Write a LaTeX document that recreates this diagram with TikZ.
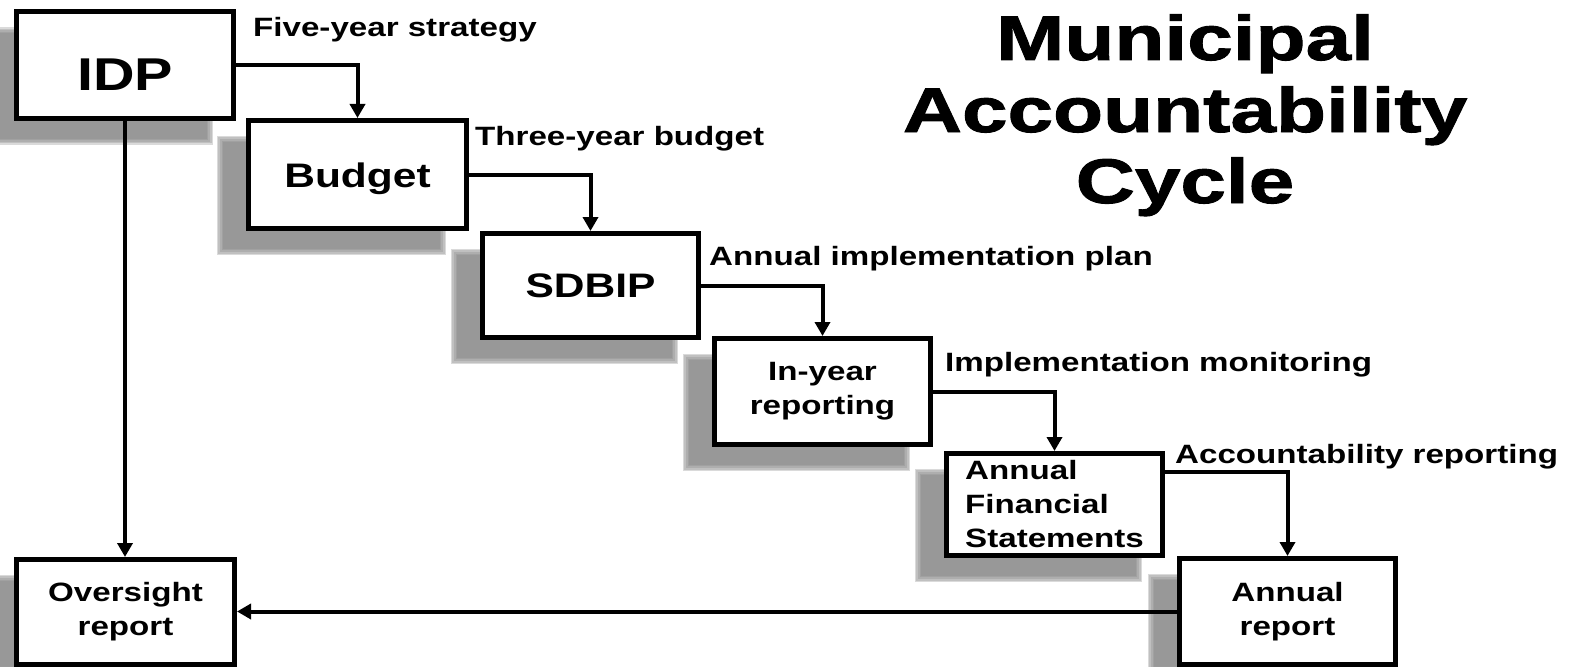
\documentclass[tikz,border=0pt]{standalone}
\usepackage{fontspec}
\setmainfont{Liberation Sans}
\newfontfamily\lblfont[FakeStretch=1.25]{Liberation Sans}
\newfontfamily\ttlfont[FakeStretch=1.3,BoldFeatures={FakeBold=1.5}]{Liberation Sans}
\usetikzlibrary{arrows.meta,calc,backgrounds}
\tikzset{
  box/.style={draw=black, line width=5pt, fill=white, inner sep=0pt,
    minimum width=216pt, minimum height=106pt, align=center,
    font=\lblfont\bfseries\fontsize{26.5}{34}\selectfont},
  lbl/.style={anchor=base west, inner sep=0pt,
    font=\lblfont\bfseries\fontsize{26.5}{34}\selectfont},
  ttl/.style={anchor=base, inner sep=0pt,
    font=\ttlfont\bfseries\fontsize{63}{72}\selectfont},
  flow/.style={line width=4pt, -{Triangle[width=15pt,length=14pt]}},
  shadowlayer/.style={fill=black!48, opacity=0.3}
}
\newcommand\dropshadow[1]{%
  \foreach \k in {-2,...,2}{%
    \fill[shadowlayer] ($(#1.north west)+(-26+\k*1.6,21+\k*1.6)$) rectangle
                       ($(#1.south east)+(-26-\k*1.6,21-\k*1.6)$);
  }}
\begin{document}
\begin{tikzpicture}[x=1pt,y=-1pt]
\useasboundingbox (0,0) rectangle (1570,666);
\clip (0,0) rectangle (1570,666);

% boxes
\node[box, minimum width=217pt, minimum height=106.4pt, font=\lblfont\bfseries\fontsize{46}{50}\selectfont,
      text height=52pt, text depth=0pt] (IDP) at (125,65) {IDP};
\node[box, minimum width=218pt, minimum height=108pt, font=\lblfont\bfseries\fontsize{34}{40}\selectfont,
      text height=25pt, text depth=0pt] (BUD) at (357.5,174.5) {Budget};
\node[box, minimum height=104pt, font=\lblfont\bfseries\fontsize{34}{40}\selectfont,
      text height=23pt, text depth=0pt] (SDB) at (590.5,285.5) {SDBIP};
\node[box] (IYR) at (822.5,391.5) {In-year\\reporting};
\node[box, minimum height=102pt, align=left] (AFS) at (1054.5,504.5) {Annual\\Financial\\Statements};
\node[box, minimum height=106pt] (AR) at (1287.5,611.5) {Annual\\report};
\node[box, minimum width=218pt, minimum height=105pt] (OR) at (125.5,612) {Oversight\\report};

% page background and shadows
\begin{pgfonlayer}{background}
  \fill[white] (0,0) rectangle (1570,666);
  \dropshadow{IDP}
  \dropshadow{BUD}
  \dropshadow{SDB}
  \dropshadow{IYR}
  \dropshadow{AFS}
  \dropshadow{AR}
  \dropshadow{OR}
\end{pgfonlayer}

% labels
\node[lbl] (L1) at (253,37) {Five-year strategy};
\node[lbl] (L2) at (475,145) {Three-year budget};
\node[lbl] (L3) at (709,265) {Annual implementation plan};
\node[lbl] (L4) at (945,371) {Implementation monitoring};
\node[lbl] (L5) at (1175,463) {Accountability reporting};

% title
\node[ttl] (T1) at (1185,60) {Municipal};
\node[ttl] (T2) at (1185,132) {Accountability};
\node[ttl] (T3) at (1185,203) {Cycle};

% connectors
\draw[flow] (IDP.east) -| (BUD.north);
\draw[flow] (BUD.east) -| (SDB.north);
\draw[flow] (SDB.east) -| (IYR.north);
\draw[flow] (IYR.east) -| (AFS.north);
\draw[flow] ([yshift=-21pt]AFS.north east) -| (AR.north);
\draw[flow] (IDP.south) -- (IDP.south |- OR.north);
\draw[flow] (AR.west) -- (AR.west -| OR.east);
\end{tikzpicture}
\end{document}
